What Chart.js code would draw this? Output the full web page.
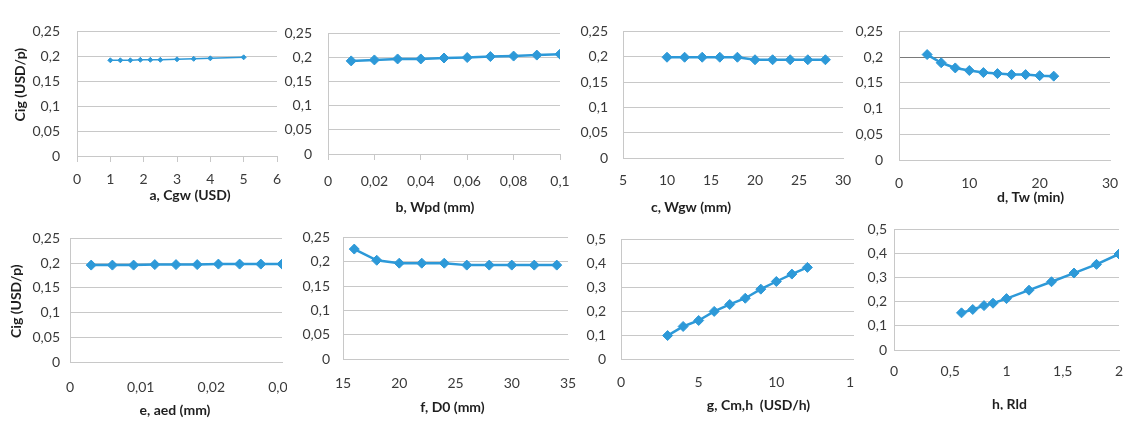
<!DOCTYPE html>
<html><head><meta charset="utf-8">
<script src="https://cdn.jsdelivr.net/npm/chart.js@4/dist/chart.umd.min.js"></script>
<style>
html,body{margin:0;padding:0;background:#fff;width:1126px;height:421px;overflow:hidden;position:relative}
canvas{position:absolute}
</style></head><body>
<canvas id="ca"></canvas><canvas id="cb"></canvas><canvas id="cc"></canvas><canvas id="cd"></canvas>
<canvas id="ce"></canvas><canvas id="cf"></canvas><canvas id="cg"></canvas><canvas id="ch"></canvas>
<script>
// ---- data ----
const yTitle = 'Cig (USD/p)';
const xTitles = ['a, Cgw (USD)', 'b, Wpd (mm)', 'c, Wgw (mm)', 'd, Tw (min)',
                 'e, aed (mm)', 'f, D0 (mm)', 'g, Cm,h  (USD/h)', 'h, Rld'];

const xA = [1, 1.3, 1.6, 1.9, 2.2, 2.5, 3, 3.5, 4, 5];
const yA = [0.192, 0.192, 0.192, 0.193, 0.193, 0.193, 0.194, 0.195, 0.196, 0.198];
const xB = [0.01, 0.02, 0.03, 0.04, 0.05, 0.06, 0.07, 0.08, 0.09, 0.1];
const yB = [0.193, 0.195, 0.197, 0.197, 0.199, 0.200, 0.202, 0.203, 0.205, 0.207];
const xC = [10, 12, 14, 16, 18, 20, 22, 24, 26, 28];
const yC = [0.199, 0.199, 0.199, 0.199, 0.199, 0.194, 0.194, 0.194, 0.194, 0.194];
const xD = [4, 6, 8, 10, 12, 14, 16, 18, 20, 22];
const yD = [0.205, 0.189, 0.179, 0.174, 0.170, 0.168, 0.166, 0.166, 0.164, 0.163];
const xE = [0.003, 0.006, 0.009, 0.012, 0.015, 0.018, 0.021, 0.024, 0.027, 0.03];
const yE = [0.196, 0.196, 0.196, 0.197, 0.197, 0.197, 0.198, 0.198, 0.198, 0.198];
const xF = [16, 18, 20, 22, 24, 26, 28, 30, 32, 34];
const yF = [0.226, 0.203, 0.197, 0.197, 0.197, 0.193, 0.193, 0.193, 0.193, 0.193];
const xG = [3, 4, 5, 6, 7, 8, 9, 10, 11, 12];
const yG = [0.098, 0.136, 0.161, 0.199, 0.228, 0.254, 0.292, 0.324, 0.355, 0.383];
const xH = [0.6, 0.7, 0.8, 0.88, 1, 1.2, 1.4, 1.6, 1.8, 2];
const yH = [0.154, 0.168, 0.184, 0.194, 0.213, 0.248, 0.283, 0.319, 0.355, 0.398];

// axis ranges [min, max, step]
const xRanges = [[0, 6, 1], [0, 0.1, 0.02], [5, 30, 5], [0, 30, 10],
                 [0, 0.03, 0.01], [15, 35, 5], [0, 15, 5], [0, 2, 0.5]];
const yRanges = [[0, 0.25, 0.05], [0, 0.25, 0.05], [0, 0.25, 0.05], [0, 0.25, 0.05],
                 [0, 0.25, 0.05], [0, 0.25, 0.05], [0, 0.5, 0.1], [0, 0.5, 0.1]];
const xs = [xA, xB, xC, xD, xE, xF, xG, xH];
const ys = [yA, yB, yC, yD, yE, yF, yG, yH];

// ---- layout / style ----
const boxes = [
  {id:'ca', L:77,  R:277,  T:18,  B:156, left:0,   yW:77, padR:12, cut:0,  xH:60, yPad:17, xPad:9,  ticks:true,  tdx:13,  tdy:39, yt:{x:20, dy:-9}, small:true},
  {id:'cb', L:328, R:560,  T:21,  B:154, left:273, yW:55, padR:14, cut:0,  xH:60, yPad:16, xPad:13, ticks:true,  tdx:-9,  tdy:53},
  {id:'cc', L:623, R:843,  T:20,  B:158, left:568, yW:55, padR:14, cut:0,  xH:60, yPad:15, xPad:14, ticks:false, tdx:-42, tdy:49},
  {id:'cd', L:899, R:1110, T:19,  B:160, left:844, yW:55, padR:12, cut:0,  xH:60, yPad:16, xPad:15, ticks:false, tdx:26,  tdy:37, dark:0.2},
  {id:'ce', L:70,  R:282,  T:232, B:362, left:0,   yW:70, padR:16, cut:11, xH:58, yPad:10, xPad:17, ticks:false, tdx:-1,  tdy:48, yt:{x:16, dy:1}},
  {id:'cf', L:343, R:568,  T:228, B:359, left:288, yW:55, padR:12, cut:0,  xH:58, yPad:13, xPad:16, ticks:false, tdx:-3,  tdy:48},
  {id:'cg', L:621, R:854,  T:228, B:359, left:566, yW:55, padR:14, cut:14, xH:58, yPad:15, xPad:15, ticks:false, tdx:21,  tdy:46},
  {id:'ch', L:894, R:1119, T:226, B:350, left:839, yW:55, padR:6,  cut:0,  xH:60, yPad:7,  xPad:13, ticks:false, tdx:3,   tdy:54}
];
const PADT = 12;
const BLUE = '#2d99d8';
const GRID = '#c8c8c8';
const TICK = '#3a3a3a';
const TITLE = '#1f1f1f';
const FONT = 'Lato';
const fmt = v => String(Number(Number(v).toFixed(3))).replace('.', ',');

const axisTitlePlugin = {
  id: 'axisTitles',
  afterDraw(chart, args, opts) {
    const ctx = chart.ctx, a = chart.chartArea;
    ctx.save();
    ctx.fillStyle = TITLE;
    ctx.font = 'bold 14px ' + FONT;
    ctx.textAlign = 'center';
    ctx.textBaseline = 'middle';
    if (opts.xText) ctx.fillText(opts.xText, (a.left + a.right) / 2 + opts.xdx, a.bottom + opts.xdy);
    if (opts.yText) {
      ctx.translate(opts.yx, (a.top + a.bottom) / 2 + opts.ydy);
      ctx.rotate(-Math.PI / 2);
      ctx.fillText(opts.yText, 0, 0);
    }
    ctx.restore();
  }
};

boxes.forEach((b, i) => {
  const cv = document.getElementById(b.id);
  const w = (b.L - b.left) + (b.R - b.L) + b.padR;
  const h = PADT + (b.B - b.T) + b.xH;
  cv.width = w; cv.height = h;
  cv.style.left = b.left + 'px';
  cv.style.top = (b.T - PADT) + 'px';
  cv.style.width = w + 'px'; cv.style.height = h + 'px';
  if (b.cut) cv.style.clipPath = 'inset(0px ' + b.cut + 'px 0px 0px)';
  const [xmin, xmax, xstep] = xRanges[i];
  const [ymin, ymax, ystep] = yRanges[i];
  new Chart(cv, {
    type: 'scatter',
    data: {datasets: [{
      data: xs[i].map((x, k) => ({x: x, y: ys[i][k]})),
      showLine: true,
      borderColor: BLUE, backgroundColor: BLUE,
      borderWidth: b.small ? 1.5 : 2.5,
      pointStyle: 'rectRot',
      pointRadius: b.small ? 2.5 : 5,
      pointBorderWidth: 1,
      pointBackgroundColor: BLUE, pointBorderColor: BLUE,
      tension: 0
    }]},
    options: {
      responsive: false, animation: false, devicePixelRatio: 1,
      layout: {padding: {left: 0, top: PADT, right: b.padR, bottom: 0}},
      plugins: {
        legend: {display: false}, tooltip: {enabled: false},
        axisTitles: {
          xText: xTitles[i], xdx: b.tdx, xdy: b.tdy,
          yText: b.yt ? yTitle : '', yx: b.yt ? b.yt.x : 0, ydy: b.yt ? b.yt.dy : 0
        }
      },
      scales: {
        x: {
          type: 'linear', min: xmin, max: xmax,
          ticks: {stepSize: xstep, callback: fmt, color: TICK, font: {family: FONT, size: 14},
                  padding: b.xPad, maxRotation: 0, autoSkip: false},
          grid: {display: b.ticks, drawOnChartArea: false, drawTicks: b.ticks, tickLength: 6, color: GRID},
          border: {display: true, color: GRID},
          afterFit(s) { s.height = b.xH; s.paddingLeft = 0; s.paddingRight = 0; }
        },
        y: {
          type: 'linear', min: ymin, max: ymax,
          ticks: {stepSize: ystep, callback: fmt, color: TICK, font: {family: FONT, size: 14}, padding: b.yPad},
          grid: {drawTicks: false,
                 color: c => (b.dark !== undefined && c.tick && Math.abs(c.tick.value - b.dark) < 1e-9) ? '#7a7a7a' : GRID},
          border: {display: true, color: GRID},
          afterFit(s) { s.width = b.yW; }
        }
      }
    },
    plugins: [axisTitlePlugin]
  });
});
</script>
</body></html>
